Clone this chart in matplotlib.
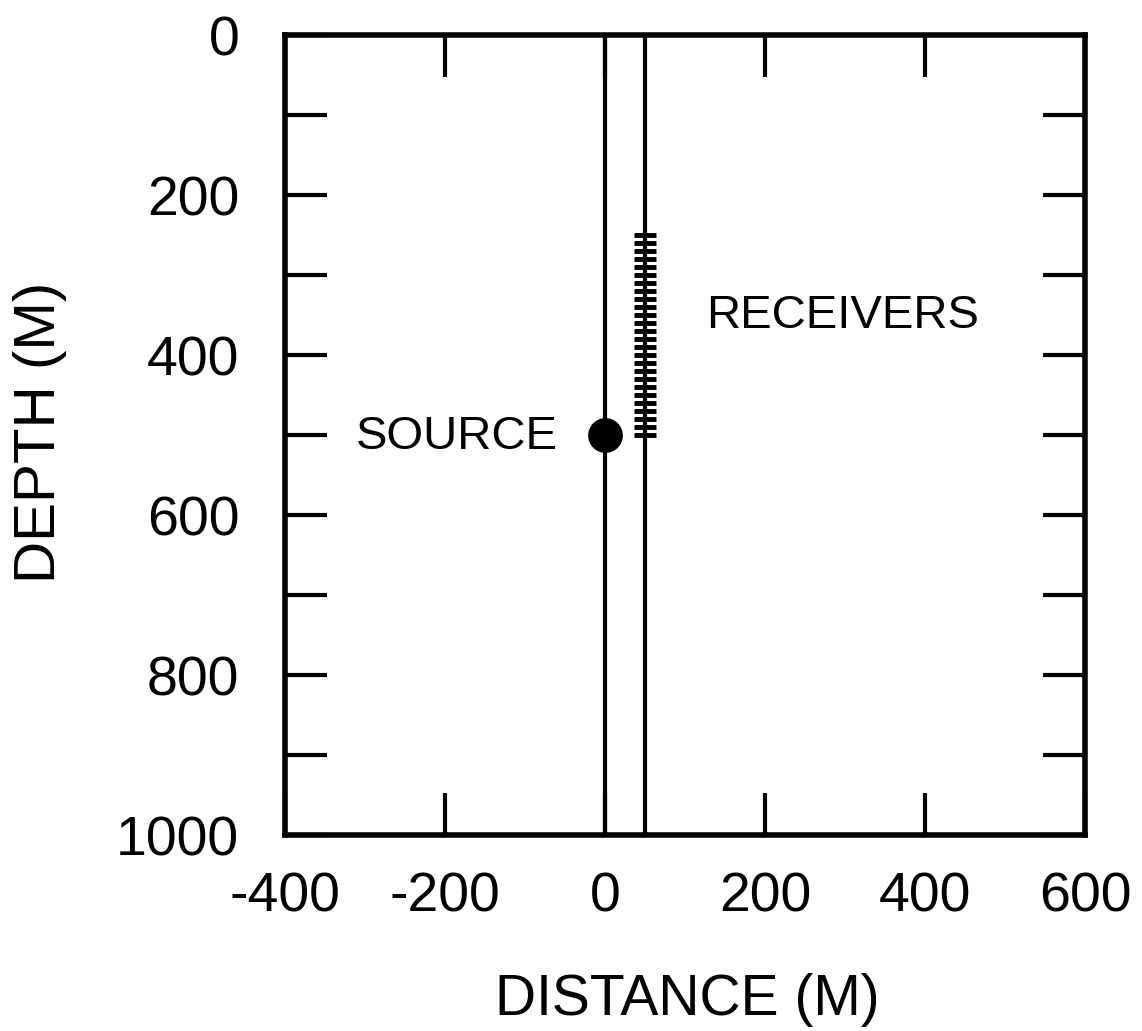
import numpy as np
import matplotlib
matplotlib.use("Agg")
import matplotlib.pyplot as plt
from matplotlib.ticker import MultipleLocator

plt.rcParams['font.family'] = ['Liberation Sans', 'DejaVu Sans']

# Borehole geometry (m)
source_well_x = 0
receiver_well_x = 50
source_depth = 500
receiver_depths = np.arange(250, 501, 10)
receiver_halfwidth = 14

x_ticks = [-400, -200, 0, 200, 400, 600]
x_labels = ['-400', '-200', '0', '200', '400', '600']
y_ticks = [0, 200, 400, 600, 800, 1000]
y_labels = ['0', '200', '400', '600', '800', '1000']

fig = plt.figure(figsize=(11.42, 10.31), dpi=100)
ax = fig.add_axes([0.2496, 0.190, 0.7005, 0.776])

ax.set_xlim(-400, 600)
ax.set_ylim(1000, 0)

# Wells
ax.axvline(source_well_x, color='black', lw=3)
ax.axvline(receiver_well_x, color='black', lw=3)

# Receiver string
ax.hlines(receiver_depths, receiver_well_x - receiver_halfwidth,
          receiver_well_x + receiver_halfwidth, color='black', lw=3.5)

# Source
ax.plot([source_well_x], [source_depth], 'o', color='black', ms=24, zorder=5)

ax.text(-312, 502, 'SOURCE', fontsize=34, va='center', ha='left')
ax.text(126, 351, 'RECEIVERS', fontsize=34, va='center', ha='left')

ax.set_xticks(x_ticks, x_labels)
ax.set_yticks(y_ticks, y_labels)
ax.xaxis.set_minor_locator(MultipleLocator(200))
ax.yaxis.set_minor_locator(MultipleLocator(100))
ax.tick_params(which='both', direction='in', length=30, width=3,
               top=True, right=True, labelsize=40)
ax.tick_params(axis='x', pad=26)
ax.tick_params(axis='y', pad=33)

for s in ax.spines.values():
    s.set_linewidth(4)

ax.set_xlabel('DISTANCE (M)', fontsize=41)
ax.set_ylabel('DEPTH (M)', fontsize=42)
ax.xaxis.set_label_coords(0.5025, -0.206)
ax.xaxis.label.set_va('center')
ax.yaxis.set_label_coords(-0.306, 0.504)
ax.yaxis.label.set_va('center')

fig.savefig('out.png', dpi=100, facecolor='white')
